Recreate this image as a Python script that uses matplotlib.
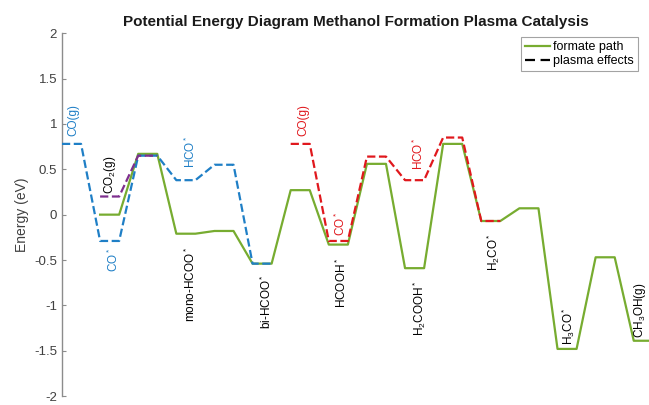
import matplotlib
matplotlib.use("Agg")
import matplotlib.pyplot as plt
from matplotlib.lines import Line2D

plt.rcParams['font.family'] = ['Liberation Sans', 'DejaVu Sans']
plt.rcParams['mathtext.fontset'] = 'custom'
plt.rcParams['mathtext.rm'] = 'Liberation Sans'
plt.rcParams['mathtext.it'] = 'Liberation Sans:italic'

# energy levels (eV), one per intermediate / transition state
formate = [0, 0.67, -0.21, -0.18, -0.54, 0.27, -0.33, 0.56, -0.59, 0.78,
           -0.07, 0.07, -1.48, -0.47, -1.39]
co_plasma = [0.78, -0.29, 0.65, 0.38, 0.55, -0.54]       # starts one slot before formate
co2_plasma = [0.20, 0.65]                                # starts with formate
co_plasma2 = [0.78, -0.29, 0.64, 0.38, 0.85, -0.07]      # starts at slot 5

GREEN = '#77AC30'
BLUE = '#1f7fc6'
PURPLE = '#7E2F8E'
RED = '#e0181d'


def steps(levels, start):
    xs, ys = [], []
    for i, e in enumerate(levels):
        k = start + i
        xs += [2 * k, 2 * k + 1]
        ys += [e, e]
    return xs, ys


fig = plt.figure(figsize=(6.49, 4.05), dpi=100)
ax = fig.add_axes([0.0955, 0.022, 0.9045, 0.896])

x, y = steps(formate, 0)
ax.plot(x, y, color=GREEN, lw=1.6, zorder=2)
x, y = steps(co_plasma, -1)
ax.plot(x, y, '--', color=BLUE, lw=1.6, zorder=3)
x, y = steps(co2_plasma, 0)
ax.plot(x, y, '--', color=PURPLE, lw=1.6, zorder=3)
x, y = steps(co_plasma2, 5)
ax.plot(x, y, '--', color=RED, lw=1.6, zorder=3)

# species labels: (x, y, text, colour, vertical anchor)
labels = [
    (-1.4, 0.87, 'CO(g)', BLUE, 'bottom'),
    (0.5, 0.23, 'CO$_2$(g)', 'black', 'bottom'),
    (0.7, -0.36, 'CO$^*$', BLUE, 'top'),
    (4.72, 0.51, 'HCO$^*$', BLUE, 'bottom'),
    (4.72, -0.36, 'mono-HCOO$^*$', 'black', 'top'),
    (8.7, -0.65, 'bi-HCOO$^*$', 'black', 'top'),
    (10.65, 0.87, 'CO(g)', RED, 'bottom'),
    (12.6, -0.23, 'CO$^*$', RED, 'bottom'),
    (12.65, -0.47, 'HCOOH$^*$', 'black', 'top'),
    (16.7, 0.49, 'HCO$^*$', RED, 'bottom'),
    (16.75, -0.73, 'H$_2$COOH$^*$', 'black', 'top'),
    (20.65, -0.2, 'H$_2$CO$^*$', 'black', 'top'),
    (24.56, -1.44, 'H$_3$CO$^*$', 'black', 'bottom'),
    (28.35, -1.36, 'CH$_3$OH(g)', 'black', 'bottom'),
]
for lx, ly, txt, col, va in labels:
    ax.text(lx, ly, txt, rotation=90, color=col, fontsize=8.5,
            ha='center', va=va)

ax.set_xlim(-2, 28.8)
ax.set_ylim(-2, 2)
ax.set_yticks([-2, -1.5, -1, -0.5, 0, 0.5, 1, 1.5, 2])
ax.set_yticklabels(['-2', '-1.5', '-1', '-0.5', '0', '0.5', '1', '1.5', '2'])
ax.set_xticks([])
for side in ['top', 'right', 'bottom']:
    ax.spines[side].set_visible(False)
ax.spines['left'].set_color('#8c8c8c')
ax.spines['left'].set_linewidth(1.0)
ax.tick_params(axis='y', direction='in', length=3, labelsize=9.5,
               color='#8c8c8c', labelcolor='#404040')
ax.set_ylabel('Energy (eV)', fontsize=10, color='#404040')
ax.set_title('Potential Energy Diagram Methanol Formation Plasma Catalysis',
             fontsize=11, fontweight='bold', pad=5, color='#1a1a1a')

handles = [Line2D([], [], color=GREEN, lw=1.6),
           Line2D([], [], color='black', ls=(0, (4.5, 2.5)), lw=1.6)]
leg = ax.legend(handles, ['formate path', 'plasma effects'], fontsize=9,
                loc='upper right', bbox_to_anchor=(0.981, 0.989),
                borderaxespad=0, fancybox=False, handlelength=2.0,
                handletextpad=0.3, borderpad=0.3, labelspacing=0.2)
leg.get_frame().set_edgecolor('#8c8c8c')
leg.get_frame().set_linewidth(0.8)

fig.savefig('out.png', dpi=100)
